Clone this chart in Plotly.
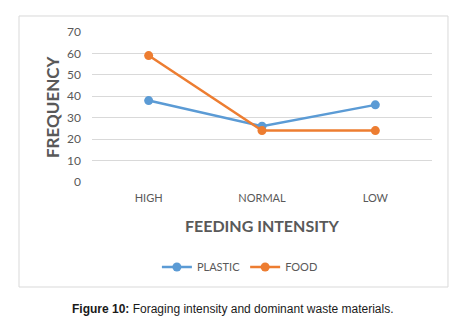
import plotly.graph_objects as go

categories = ["HIGH", "NORMAL", "LOW"]
plastic = [38, 26, 36]
food = [59, 24, 24]
y_ticks = [0, 10, 20, 30, 40, 50, 60, 70]

fig = go.Figure()
fig.add_trace(go.Scatter(x=categories, y=plastic, name="PLASTIC", mode="lines+markers",
                         line=dict(color="#5B9BD5", width=2.5), marker=dict(size=9, color="#5B9BD5")))
fig.add_trace(go.Scatter(x=categories, y=food, name="FOOD", mode="lines+markers",
                         line=dict(color="#ED7D31", width=2.5), marker=dict(size=9, color="#ED7D31")))

fig.update_layout(
    width=459, height=317,
    margin=dict(l=84, r=35, t=24, b=143),
    paper_bgcolor="white", plot_bgcolor="white",
    font=dict(family="Lato, Open Sans, sans-serif", color="#595959", size=11),
    showlegend=True,
    legend=dict(orientation="h", x=0.435, xanchor="center", y=-0.567, yanchor="middle",
                font=dict(size=11, color="#595959"), itemwidth=30),
    xaxis=dict(range=[-0.5, 2.5], showgrid=False, zeroline=False, showline=False,
               ticks="", ticklabelstandoff=8, tickfont=dict(size=11, color="#595959")),
    yaxis=dict(range=[0, 70], tickvals=y_ticks, showgrid=True, gridcolor="#D9D9D9",
               gridwidth=1, zeroline=False, showline=False, ticks="",
               ticklabelstandoff=10, tickfont=dict(size=12, color="#595959")),
    shapes=[dict(type="rect", xref="paper", yref="paper", x0=-0.2147, x1=1.047,
                 y0=-0.7, y1=1.1067, line=dict(color="#D9D9D9", width=1), layer="below")],
    annotations=[
        dict(text="<b>FREQUENCY</b>", xref="paper", yref="paper", x=(52 - 92) / 340, y=(182 - 107) / 150,
             textangle=-90, showarrow=False, font=dict(size=17, color="#595959", family="Lato, sans-serif"),
             xanchor="center", yanchor="middle"),
        dict(text="<b>FEEDING INTENSITY</b>", xref="paper", yref="paper", x=(262 - 92) / 340,
             y=-(225 - 182) / 150, showarrow=False,
             font=dict(size=16, color="#595959", family="Lato, sans-serif"),
             xanchor="center", yanchor="middle"),
        dict(text="<b>Figure 10:</b> Foraging intensity and dominant waste materials.",
             xref="paper", yref="paper", x=(233 - 92) / 340, y=-(309 - 182) / 150, showarrow=False,
             font=dict(size=12, color="#1a1a1a", family="Liberation Sans, Arial, sans-serif"),
             xanchor="center", yanchor="middle"),
    ],
)

fig.write_html("out.html")
